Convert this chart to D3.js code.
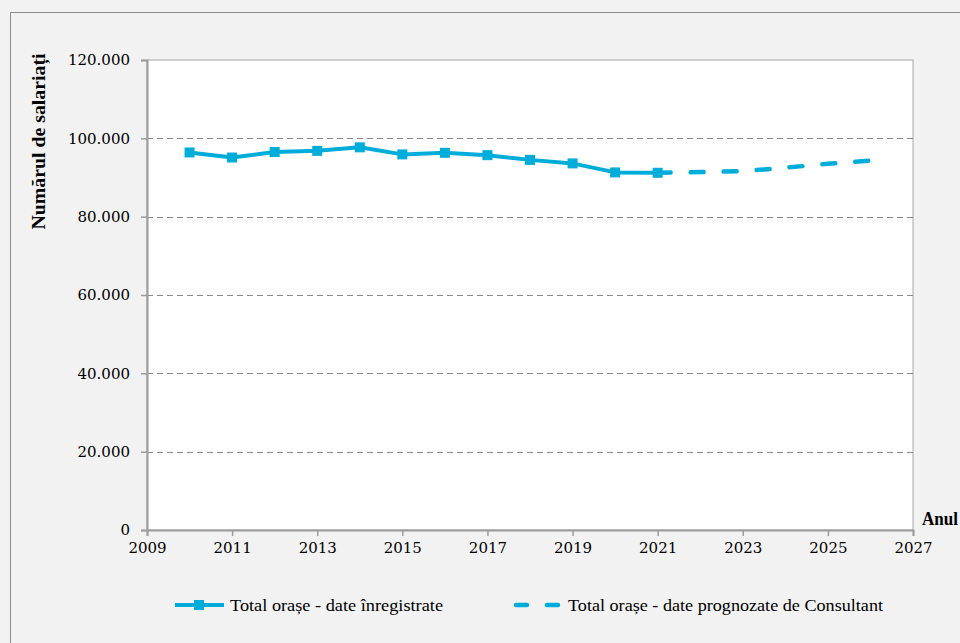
<!DOCTYPE html>
<html>
<head>
<meta charset="utf-8">
<script src="https://cdn.jsdelivr.net/npm/d3@7"></script>
<style>
  html, body { margin: 0; padding: 0; background: #f2f2f2; }
  svg { display: block; }
</style>
</head>
<body>
<div id="chart"></div>
<script>
// Recorded data (2010-2021)
var years = [2010, 2011, 2012, 2013, 2014, 2015, 2016, 2017, 2018, 2019, 2020, 2021];
var recorded = [96400, 95100, 96500, 96800, 97700, 95900, 96300, 95700, 94500, 93600, 91300, 91200];

// Consultant forecast (2021-2026)
var forecastYears = [2021, 2022, 2023, 2024, 2025, 2026];
var forecast = [91200, 91400, 91600, 92500, 93500, 94300];

var xTicks = [2009, 2011, 2013, 2015, 2017, 2019, 2021, 2023, 2025, 2027];
var yTicks = [0, 20000, 40000, 60000, 80000, 100000, 120000];
var gridTicks = [20000, 40000, 60000, 80000, 100000];

var seriesNames = ['Total orașe - date înregistrate', 'Total orașe - date prognozate de Consultant'];
var yTitle = 'Numărul de salariați';
var xTitle = 'Anul';

var W = 960, H = 643;
var margin = {top: 60, right: 47, bottom: 113, left: 147};
var width = W - margin.left - margin.right;
var height = H - margin.top - margin.bottom;
var blue = '#00ACDA';

var locale = d3.formatLocale({decimal: ',', thousands: '.', grouping: [3], currency: ['', '']});
var fmt = locale.format(',');

var svg = d3.select('#chart').append('svg')
    .attr('width', W)
    .attr('height', H);

// outer chart frame
svg.append('rect')
    .attr('x', 10.5).attr('y', 12.5)
    .attr('width', 1000).attr('height', 700)
    .attr('fill', '#f2f2f2')
    .attr('stroke', '#8c8c8c')
    .attr('stroke-width', 1);

var g = svg.append('g').attr('transform', 'translate(' + margin.left + ',' + margin.top + ')');

var x = d3.scaleLinear().domain([2009, 2027]).range([0, width]);
var y = d3.scaleLinear().domain([0, 120000]).range([height, 0]);

// plot area
g.append('rect')
    .attr('width', width).attr('height', height)
    .attr('fill', '#ffffff')
    .attr('stroke', '#a6a6a6')
    .attr('stroke-width', 1);

// gridlines
g.selectAll('.grid').data(gridTicks).enter().append('line')
    .attr('class', 'grid')
    .attr('x1', 0).attr('x2', width)
    .attr('y1', function(d) { return Math.round(y(d)) + 0.5; })
    .attr('y2', function(d) { return Math.round(y(d)) + 0.5; })
    .attr('stroke', '#8a8a8a')
    .attr('stroke-width', 1)
    .attr('stroke-dasharray', '6,4');

// axes
var yAxis = g.append('g')
    .call(d3.axisLeft(y).tickValues(yTicks).tickFormat(fmt).tickSize(6).tickPadding(11));
var xAxis = g.append('g')
    .attr('transform', 'translate(0,' + height + ')')
    .call(d3.axisBottom(x).tickValues(xTicks).tickFormat(d3.format('d')).tickSize(6).tickPadding(6));

[yAxis, xAxis].forEach(function(a) {
  a.select('.domain').attr('stroke', '#9c9c9c').attr('stroke-width', 2);
  a.selectAll('.tick line').attr('stroke', '#9c9c9c').attr('stroke-width', 1.5);
  a.selectAll('.tick text')
      .attr('fill', '#000')
      .attr('font-family', 'DejaVu Serif, serif')
      .attr('font-size', '15px');
});

// series
var line = d3.line()
    .x(function(d, i) { return x(years[i]); })
    .y(function(d) { return y(d); });

var fline = d3.line()
    .x(function(d, i) { return x(forecastYears[i]); })
    .y(function(d) { return y(d); });

g.append('path')
    .datum(forecast)
    .attr('fill', 'none')
    .attr('stroke', blue)
    .attr('stroke-width', 4.5)
    .attr('stroke-linecap', 'round')
    .attr('stroke-dasharray', '13,20')
    .attr('d', fline);

g.append('path')
    .datum(recorded)
    .attr('fill', 'none')
    .attr('stroke', blue)
    .attr('stroke-width', 4)
    .attr('stroke-linejoin', 'round')
    .attr('stroke-linecap', 'round')
    .attr('d', line);

g.selectAll('.mk').data(recorded).enter().append('rect')
    .attr('class', 'mk')
    .attr('x', function(d, i) { return x(years[i]) - 5; })
    .attr('y', function(d) { return y(d) - 5; })
    .attr('width', 10).attr('height', 10)
    .attr('fill', blue);

// axis titles
svg.append('text')
    .attr('transform', 'translate(45,141.5) rotate(-90)')
    .attr('text-anchor', 'middle')
    .attr('font-family', 'Liberation Serif, serif')
    .attr('font-weight', 'bold')
    .attr('font-size', '18.5px')
    .attr('textLength', 176)
    .attr('lengthAdjust', 'spacingAndGlyphs')
    .text(yTitle);

// sits against the right edge, as in the original
svg.append('text')
    .attr('x', 922).attr('y', 525)
    .attr('font-family', 'Liberation Serif, serif')
    .attr('font-weight', 'bold')
    .attr('font-size', '18px')
    .attr('textLength', 36)
    .attr('lengthAdjust', 'spacingAndGlyphs')
    .text(xTitle);

// legend
var legY = 605;
var leg1 = svg.append('g');
leg1.append('line')
    .attr('x1', 175).attr('x2', 224).attr('y1', legY).attr('y2', legY)
    .attr('stroke', blue).attr('stroke-width', 4);
leg1.append('rect')
    .attr('x', 194).attr('y', legY - 5).attr('width', 10).attr('height', 10)
    .attr('fill', blue);
leg1.append('text')
    .attr('x', 230).attr('y', legY + 6)
    .attr('font-family', 'Liberation Serif, serif')
    .attr('font-size', '17px')
    .attr('textLength', 213)
    .attr('lengthAdjust', 'spacingAndGlyphs')
    .text(seriesNames[0]);

var leg2 = svg.append('g');
leg2.append('line')
    .attr('x1', 516).attr('x2', 562).attr('y1', legY).attr('y2', legY)
    .attr('stroke', blue).attr('stroke-width', 4.5)
    .attr('stroke-linecap', 'round')
    .attr('stroke-dasharray', '11,20');
leg2.append('text')
    .attr('x', 568).attr('y', legY + 6)
    .attr('font-family', 'Liberation Serif, serif')
    .attr('font-size', '17px')
    .attr('textLength', 315)
    .attr('lengthAdjust', 'spacingAndGlyphs')
    .text(seriesNames[1]);
</script>
</body>
</html>
